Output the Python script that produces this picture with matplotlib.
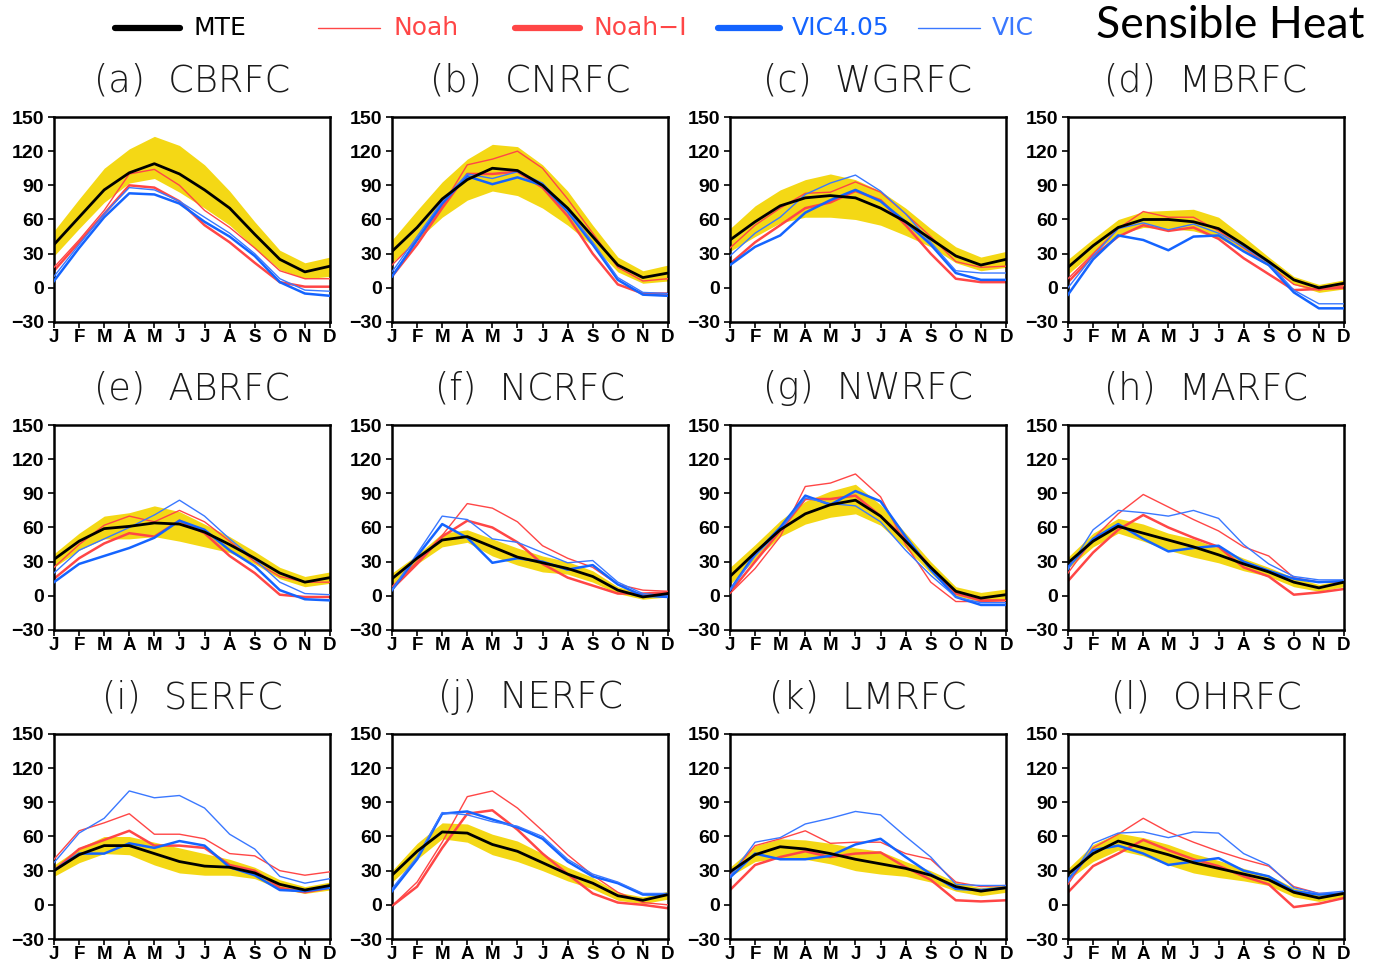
import matplotlib
matplotlib.use('Agg')
import matplotlib.pyplot as plt
from matplotlib import font_manager
from matplotlib.lines import Line2D
import numpy

names = {f.name for f in font_manager.fontManager.ttflist}
def pick(*cands):
    for c in cands:
        if c in names:
            return c
    return 'DejaVu Sans'

tick_font = pick('Liberation Sans', 'DejaVu Sans')
head_font = pick('Lato', 'Open Sans', 'DejaVu Sans')

months = ['J', 'F', 'M', 'A', 'M', 'J', 'J', 'A', 'S', 'O', 'N', 'D']
panels = ['(a)  CBRFC', '(b)  CNRFC', '(c)  WGRFC', '(d)  MBRFC',
          '(e)  ABRFC', '(f)  NCRFC', '(g)  NWRFC', '(h)  MARFC',
          '(i)  SERFC', '(j)  NERFC', '(k)  LMRFC', '(l)  OHRFC']

# MTE mean (black)
mte = [
    [38, 62, 86, 101, 109, 100, 86, 70, 47, 25, 14, 19],
    [32, 53, 78, 95, 105, 103, 90, 70, 45, 20, 9, 13],
    [42, 58, 72, 79, 81, 79, 70, 58, 43, 28, 20, 25],
    [18, 37, 53, 60, 60, 58, 52, 38, 23, 7, 0, 4],
    [32, 48, 59, 61, 64, 63, 56, 45, 33, 20, 12, 16],
    [15, 33, 49, 52, 43, 34, 29, 24, 17, 5, -1, 2],
    [17, 38, 58, 72, 80, 84, 70, 48, 25, 4, -2, 1],
    [29, 48, 61, 55, 49, 43, 36, 28, 21, 12, 7, 12],
    [30, 44, 52, 52, 45, 38, 34, 33, 28, 18, 13, 17],
    [26, 47, 64, 63, 53, 47, 37, 27, 19, 8, 4, 9],
    [29, 44, 51, 49, 45, 40, 36, 32, 26, 16, 12, 15],
    [27, 45, 56, 50, 44, 37, 32, 27, 22, 11, 6, 10],
]
# MTE spread (yellow band)
mte_hi = [
    [50, 78, 105, 122, 133, 125, 108, 85, 58, 33, 22, 27],
    [42, 68, 93, 113, 126, 124, 108, 85, 55, 27, 15, 20],
    [52, 72, 86, 95, 100, 95, 85, 70, 52, 36, 27, 32],
    [25, 43, 60, 67, 68, 69, 62, 45, 27, 10, 3, 7],
    [37, 55, 70, 73, 79, 74, 63, 52, 39, 25, 17, 21],
    [20, 36, 55, 58, 50, 42, 35, 30, 22, 8, 2, 4],
    [25, 45, 66, 83, 92, 98, 80, 55, 30, 8, 3, 6],
    [34, 55, 68, 63, 55, 50, 42, 33, 25, 16, 10, 14],
    [35, 50, 60, 60, 55, 50, 45, 40, 33, 22, 16, 20],
    [30, 54, 72, 71, 62, 56, 45, 33, 24, 11, 7, 12],
    [33, 52, 58, 57, 54, 50, 47, 38, 30, 20, 15, 18],
    [32, 53, 63, 59, 53, 45, 39, 32, 26, 15, 9, 12],
]
mte_lo = [
    [28, 52, 75, 92, 96, 84, 70, 55, 35, 16, 8, 10],
    [22, 42, 62, 77, 85, 81, 70, 55, 37, 14, 4, 6],
    [32, 45, 57, 62, 62, 60, 55, 46, 36, 22, 15, 18],
    [12, 31, 47, 53, 52, 50, 44, 32, 19, 3, -4, -1],
    [25, 40, 50, 50, 52, 48, 43, 38, 28, 15, 8, 11],
    [10, 28, 43, 47, 35, 27, 21, 19, 12, 2, -3, -1],
    [10, 32, 52, 63, 69, 72, 62, 42, 20, 0, -5, -4],
    [24, 43, 55, 48, 40, 34, 29, 22, 17, 8, 4, 8],
    [25, 37, 45, 44, 35, 28, 26, 26, 23, 14, 10, 13],
    [20, 40, 58, 55, 44, 38, 30, 21, 14, 4, 1, 5],
    [25, 38, 41, 40, 36, 30, 27, 25, 20, 12, 8, 11],
    [22, 38, 48, 43, 35, 28, 24, 21, 17, 7, 3, 7],
]
# Noah (thin red)
noah = [
    [18, 42, 68, 100, 104, 90, 68, 53, 35, 15, 8, 8],
    [20, 42, 72, 108, 113, 120, 105, 78, 48, 18, 6, 8],
    [35, 55, 70, 83, 84, 93, 84, 65, 45, 23, 18, 19],
    [8, 30, 52, 67, 62, 62, 50, 35, 20, 3, -2, 2],
    [25, 45, 62, 70, 65, 75, 65, 48, 30, 17, 12, 12],
    [8, 30, 53, 81, 77, 65, 44, 33, 25, 10, 5, 4],
    [2, 24, 52, 96, 99, 107, 87, 45, 12, -5, -5, -4],
    [20, 50, 72, 89, 78, 67, 57, 43, 35, 16, 12, 12],
    [40, 65, 72, 80, 62, 62, 58, 45, 43, 30, 26, 29],
    [-1, 20, 55, 95, 100, 85, 65, 44, 26, 11, 2, 0],
    [26, 52, 58, 65, 54, 55, 55, 45, 40, 20, 16, 17],
    [18, 50, 62, 76, 64, 55, 47, 40, 34, 16, 10, 10],
]
# Noah-I (thick red)
noah_i = [
    [15, 40, 65, 90, 88, 76, 55, 40, 22, 5, 1, 1],
    [10, 38, 70, 100, 100, 102, 88, 63, 30, 3, -5, -5],
    [21, 40, 55, 70, 75, 85, 77, 55, 30, 8, 5, 5],
    [5, 28, 45, 55, 50, 53, 43, 26, 12, -2, -1, 0],
    [15, 33, 46, 55, 52, 66, 55, 35, 20, 1, -1, -1],
    [6, 28, 52, 66, 60, 47, 28, 16, 9, 2, 2, 3],
    [3, 30, 57, 85, 85, 88, 70, 50, 25, 2, -4, -4],
    [13, 38, 58, 71, 60, 51, 43, 25, 17, 1, 3, 6],
    [30, 49, 57, 65, 52, 52, 50, 35, 30, 15, 11, 15],
    [-1, 16, 50, 80, 83, 66, 45, 27, 10, 2, 0, -3],
    [13, 35, 42, 47, 42, 45, 46, 33, 22, 4, 3, 4],
    [11, 34, 45, 57, 48, 40, 34, 25, 18, -2, 1, 6],
]
# VIC4.05 (thick blue)
vic405 = [
    [6, 35, 62, 83, 82, 74, 58, 45, 28, 5, -5, -7],
    [10, 42, 74, 98, 91, 97, 90, 67, 38, 7, -6, -7],
    [20, 36, 46, 66, 77, 86, 76, 58, 38, 13, 7, 7],
    [-6, 25, 46, 42, 33, 45, 46, 32, 20, -4, -18, -18],
    [12, 28, 35, 42, 51, 66, 58, 40, 26, 5, -3, -4],
    [5, 35, 63, 51, 29, 33, 30, 23, 27, 10, 0, -1],
    [5, 37, 60, 88, 80, 92, 83, 52, 23, -1, -8, -8],
    [25, 50, 63, 50, 39, 42, 44, 30, 22, 15, 12, 13],
    [30, 45, 45, 54, 50, 56, 52, 33, 26, 13, 12, 15],
    [12, 40, 80, 82, 75, 68, 58, 38, 25, 19, 9, 9],
    [24, 45, 40, 40, 43, 53, 58, 42, 27, 14, 13, 15],
    [22, 48, 52, 45, 35, 38, 41, 30, 25, 12, 9, 10],
]
# VIC (thin blue)
vic = [
    [10, 38, 65, 88, 86, 76, 62, 48, 30, 8, -2, -3],
    [14, 45, 76, 100, 96, 102, 92, 68, 40, 9, -4, -5],
    [28, 48, 62, 82, 92, 99, 85, 65, 40, 15, 13, 13],
    [0, 28, 52, 57, 51, 56, 48, 36, 22, -2, -14, -14],
    [20, 40, 50, 60, 71, 84, 70, 50, 32, 12, 2, 1],
    [5, 37, 70, 67, 50, 47, 38, 29, 31, 12, 2, 0],
    [5, 35, 58, 86, 81, 79, 65, 40, 18, -1, -6, -6],
    [23, 58, 75, 73, 70, 75, 68, 45, 28, 17, 14, 14],
    [37, 63, 76, 100, 94, 96, 85, 62, 49, 25, 19, 23],
    [14, 42, 81, 79, 73, 69, 60, 40, 27, 20, 10, 10],
    [25, 55, 59, 71, 76, 82, 79, 60, 42, 18, 17, 17],
    [20, 54, 63, 64, 59, 64, 63, 45, 35, 15, 10, 12],
]

yellow = '#F4D815'
red = '#FF4646'
blue = '#1464FF'
blue_thin = '#3A78FF'

W, H = 1373, 964
fig = plt.figure(figsize=(W / 100, H / 100), dpi=100)

col_left = [54, 392, 730, 1068]
row_top = [117, 425, 734]
aw, ah = 276, 205

x = numpy.arange(12)
for i in range(12):
    r, c = divmod(i, 4)
    ax = fig.add_axes([col_left[c] / W, 1 - (row_top[r] + ah) / H, aw / W, ah / H])
    ax.fill_between(x, mte_lo[i], mte_hi[i], color=yellow, lw=0, zorder=1)
    ax.plot(x, noah_i[i], color=red, lw=1.8, zorder=2)
    ax.plot(x, noah[i], color=red, lw=1.0, zorder=3)
    ax.plot(x, vic405[i], color=blue, lw=1.8, zorder=4)
    ax.plot(x, vic[i], color=blue_thin, lw=1.0, zorder=5)
    ax.plot(x, mte[i], color='black', lw=2.0, zorder=6)
    ax.set_xlim(0, 11)
    ax.set_ylim(-30, 150)
    ax.set_xticks(x)
    ax.set_xticklabels(months, fontfamily=tick_font, fontweight='bold', fontsize=13.5)
    yt = [-30, 0, 30, 60, 90, 120, 150]
    ax.set_yticks(yt)
    ax.set_yticklabels(['\u221230' if v < 0 else str(v) for v in yt],
                       fontfamily=tick_font, fontweight='bold', fontsize=14)
    ax.tick_params(axis='both', direction='out', length=4, width=1.2)
    ax.tick_params(axis='x', pad=1)
    ax.tick_params(axis='y', pad=3)
    for s in ax.spines.values():
        s.set_linewidth(1.8)
    ax.text(0.5, 1.18, panels[i], transform=ax.transAxes, ha='center', va='center',
            fontsize=26.5, fontfamily='DejaVu Sans', fontweight=200, color='#1a1a1a')

# legend across the top
legend_items = [
    ('MTE', 'black', 4.5, 115, 180, 193),
    ('Noah', red, 1.0, 318, 380, 393),
    ('Noah\u2212I', red, 4.5, 515, 580, 593),
    ('VIC4.05', blue, 4.5, 718, 780, 792),
    ('VIC', blue_thin, 1.0, 918, 980, 992),
]
ly = 1 - 28 / H
for lab, col, lw, x0, x1, tx in legend_items:
    fig.add_artist(Line2D([x0 / W, x1 / W], [ly, ly], color=col, lw=lw,
                          solid_capstyle='round', transform=fig.transFigure))
    fig.text(tx / W, ly, lab, color='black' if col == 'black' else col,
             fontsize=18, fontfamily='DejaVu Sans', va='center', ha='left')

fig.text(1365 / W, 1 - 26 / H, 'Sensible Heat', fontsize=32, fontfamily=head_font,
         ha='right', va='center', color='black')

plt.savefig('out.png', dpi=100)
